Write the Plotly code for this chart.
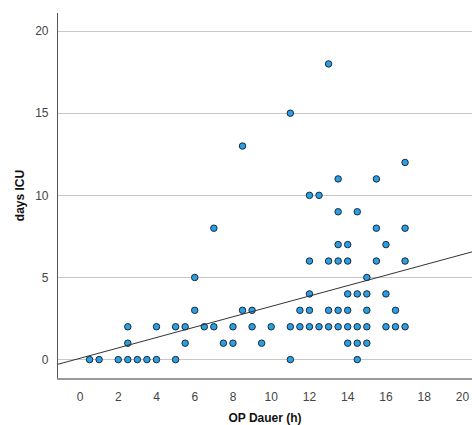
import plotly.graph_objects as go

op_dauer = [0.5, 1, 2, 2.5, 2.5, 2.5, 3, 3.5, 4, 4, 5, 5, 5.5, 5.5, 6, 6, 6.5, 7, 7,
            7.5, 8, 8, 8.5, 8.5, 9, 9, 9.5, 10, 11, 11, 11, 11.5, 11.5,
            12, 12, 12, 12, 12, 12.5, 12.5, 13, 13, 13, 13,
            13.5, 13.5, 13.5, 13.5, 13.5, 13.5,
            14, 14, 14, 14, 14, 14, 14.5, 14.5, 14.5, 14.5, 14.5,
            15, 15, 15, 15, 15, 15.5, 15.5, 15.5,
            16, 16, 16, 16.5, 16.5, 17, 17, 17, 17]
days_icu = [0, 0, 0, 0, 1, 2, 0, 0, 0, 2, 0, 2, 1, 2, 3, 5, 2, 2, 8,
            1, 1, 2, 3, 13, 2, 3, 1, 2, 0, 2, 15, 2, 3,
            2, 3, 4, 6, 10, 2, 10, 2, 3, 6, 18,
            2, 3, 6, 7, 9, 11,
            1, 2, 3, 4, 6, 7, 0, 1, 2, 4, 9,
            1, 2, 3, 4, 5, 6, 8, 11,
            2, 4, 7, 2, 3, 2, 6, 8, 12]

# fit line
fit_slope = 0.316
fit_intercept = 0.08

x_range = [-1.15, 20.5]
y_range = [-1.12, 21.1]
x_ticks = [0, 2, 4, 6, 8, 10, 12, 14, 16, 18, 20]
y_ticks = [0, 5, 10, 15, 20]

fig = go.Figure()
fig.add_trace(go.Scatter(
    x=op_dauer, y=days_icu, mode="markers",
    marker=dict(size=6.5, color="#2a9fe6", line=dict(color="#1d2b36", width=1)),
    showlegend=False, hoverinfo="x+y"))
fig.add_trace(go.Scatter(
    x=x_range, y=[fit_intercept + fit_slope * v for v in x_range], mode="lines",
    line=dict(color="#333333", width=1), showlegend=False, hoverinfo="skip"))

tick_font = dict(family="Liberation Sans, Arial, sans-serif", size=12, color="#444444")
title_font = dict(family="Liberation Sans, Arial, sans-serif", size=12, color="#111111")

fig.update_layout(
    width=472, height=425, autosize=False,
    margin=dict(l=58, r=0, t=13, b=47, pad=0),
    plot_bgcolor="white", paper_bgcolor="white",
    xaxis=dict(range=x_range, tickvals=x_ticks, showgrid=False, zeroline=False,
               automargin=False,
               showline=True, linecolor="#9a9a9a", linewidth=1.5,
               ticks="outside", ticklen=7, tickcolor="rgba(0,0,0,0)",
               tickfont=tick_font,
               title=dict(text="<b>OP Dauer (h)</b>", font=title_font, standoff=10)),
    yaxis=dict(range=y_range, tickvals=y_ticks, showgrid=True, gridcolor="#c8c8c8",
               gridwidth=1, zeroline=False, automargin=False,
               showline=True, linecolor="#555555", linewidth=1.2,
               ticks="outside", ticklen=6, tickcolor="rgba(0,0,0,0)",
               tickfont=tick_font,
               title=dict(text="<b>days ICU</b>", font=title_font, standoff=7)),
)

# remove the browser's default 8px page margin so the figure fills the window
fig.write_html("out.html",
               config={"displayModeBar": False},
               post_script="document.body.style.margin='0';document.body.style.overflow='hidden';")
